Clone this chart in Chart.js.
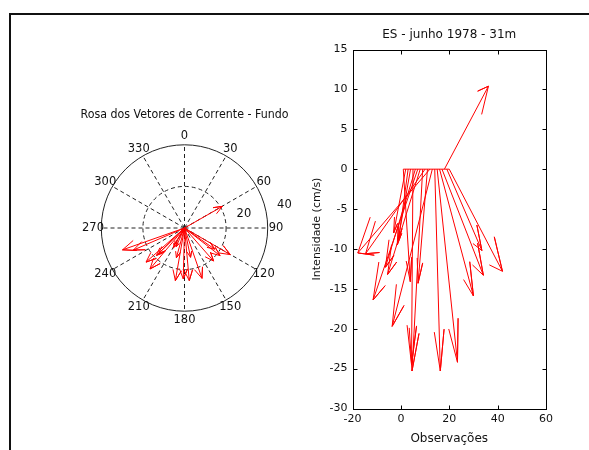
<!DOCTYPE html>
<html>
<head>
<meta charset="utf-8">
<script src="https://cdn.jsdelivr.net/npm/chart.js@4.4.1/dist/chart.umd.min.js"></script>
<style>
  html, body { margin: 0; padding: 0; background: #fff; width: 589px; height: 450px; overflow: hidden; }
  #moldura { position: absolute; left: 9px; top: 13px; width: 620px; height: 480px;
             border-left: 2px solid #111; border-top: 2px solid #111; }
  #rosa { position: absolute; left: 40px; top: 100px; }
  #pena { position: absolute; left: 290px; top: 20px; }
</style>
</head>
<body>
<div id="moldura"></div>
<canvas id="rosa" width="290" height="240"></canvas>
<canvas id="pena" width="320" height="430"></canvas>
<script>
// Corrente de fundo, ES, junho 1978, 31 m: componentes (cm/s) de cada observação
const observacoes = [1, 2, 3, 4, 5, 6, 7, 8, 9, 10, 11, 12, 13, 14, 15, 16, 17, 18, 19, 20];
const leste = [2.9, -5.0, -4.0, -5.5, -0.6, -12.4, -18.5, -13.5, -4.4, -24.6,
               -3.9, -29.8, -16.6, 2.3, 8.4, 14.0, 17.1, 18.2, 14.5, 22.0];
const norte = [-14.1, -8.0, -8.9, -9.5, -24.5, -12.3, -16.4, -13.2, -25.3, -10.6,
               -14.3, -10.5, -19.7, -25.3, -24.2, -15.9, -13.3, 10.4, -10.2, -12.8];

// Rosa: direções (graus) e anéis de intensidade
const angulos = [0, 30, 60, 90, 120, 150, 180, 210, 240, 270, 300, 330];
const aneis = [20, 40];

// Diagrama de penas: marcas dos eixos
const ticksX = [-20, 0, 20, 40, 60];
const ticksY = [-30, -25, -20, -15, -10, -5, 0, 5, 10, 15];

const VERMELHO = '#ff0000';
const FONTE = '"DejaVu Sans", Verdana, sans-serif';

// Seta no estilo MATLAB: haste, ponta e duas farpas a 80% do comprimento
function seta(x0, y0, u, v) {
  return [
    { x: x0, y: y0 },
    { x: x0 + u, y: y0 + v },
    { x: x0 + 0.8 * u - 0.08 * v, y: y0 + 0.8 * v + 0.08 * u },
    { x: x0 + u, y: y0 + v },
    { x: x0 + 0.8 * u + 0.08 * v, y: y0 + 0.8 * v - 0.08 * u }
  ];
}

function conjuntoSeta(pts) {
  return { data: pts, showLine: true, borderColor: VERMELHO, borderWidth: 1,
           pointRadius: 0, fill: false, tension: 0 };
}

// ---------- Rosa dos vetores ----------
const gradeRosa = {
  id: 'gradeRosa',
  beforeDatasetsDraw(chart) {
    const { ctx, scales: { x, y } } = chart;
    const cx = x.getPixelForValue(0), cy = y.getPixelForValue(0);
    const raio = r => x.getPixelForValue(r) - cx;
    const R = raio(aneis[aneis.length - 1]);
    ctx.save();
    ctx.strokeStyle = '#222';
    ctx.lineWidth = 1;
    ctx.setLineDash([4, 3]);
    angulos.forEach(a => {
      const t = a * Math.PI / 180;
      ctx.beginPath();
      ctx.moveTo(cx, cy);
      ctx.lineTo(cx + R * Math.sin(t), cy - R * Math.cos(t));
      ctx.stroke();
    });
    aneis.slice(0, -1).forEach(r => {
      ctx.beginPath();
      ctx.arc(cx, cy, raio(r), 0, 2 * Math.PI);
      ctx.stroke();
    });
    ctx.setLineDash([]);
    ctx.beginPath();
    ctx.arc(cx, cy, R, 0, 2 * Math.PI);
    ctx.stroke();
    ctx.restore();
  },
  afterDatasetsDraw(chart) {
    const { ctx, scales: { x, y } } = chart;
    const rMax = aneis[aneis.length - 1];
    ctx.save();
    ctx.fillStyle = '#111';
    ctx.font = '11.5px ' + FONTE;
    ctx.textAlign = 'center';
    ctx.textBaseline = 'middle';
    angulos.forEach(a => {
      const t = a * Math.PI / 180, r = rMax * 1.1;
      ctx.fillText(String(a), x.getPixelForValue(r * Math.sin(t)), y.getPixelForValue(r * Math.cos(t)));
    });
    const tR = 77 * Math.PI / 180;
    aneis.forEach(v => {
      const r = v + 9.3;
      ctx.fillText(String(v), x.getPixelForValue(r * Math.sin(tR)), y.getPixelForValue(r * Math.cos(tR)));
    });
    ctx.restore();
  }
};

new Chart(document.getElementById('rosa'), {
  type: 'scatter',
  data: { datasets: leste.map((u, i) => conjuntoSeta(seta(0, 0, u, norte[i]))) },
  options: {
    responsive: false, animation: false, events: [],
    layout: { padding: { left: 40.5, right: 41.5, top: 0, bottom: 8 } },
    plugins: {
      legend: { display: false }, tooltip: { enabled: false },
      title: { display: true, text: 'Rosa dos Vetores de Corrente - Fundo', color: '#111',
               font: { family: FONTE, size: 12, weight: 'normal' }, padding: { top: 7.8, bottom: 1.8 } }
    },
    scales: {
      x: { type: 'linear', min: -50, max: 50, display: false },
      y: { type: 'linear', min: -50, max: 50, display: false }
    }
  },
  plugins: [gradeRosa]
});

// ---------- Diagrama de penas ----------
const caixa = {
  id: 'caixa',
  afterDraw(chart) {
    const { ctx, chartArea: a, scales: { x, y } } = chart;
    const L = Math.round(a.left) + 0.5, R = Math.round(a.right) + 0.5;
    const T = Math.round(a.top) + 0.5, B = Math.round(a.bottom) + 0.5;
    ctx.save();
    ctx.strokeStyle = '#000';
    ctx.lineWidth = 1;
    ctx.strokeRect(L, T, R - L, B - T);
    ctx.beginPath();
    ticksX.forEach(v => {
      const p = Math.round(x.getPixelForValue(v)) + 0.5;
      ctx.moveTo(p, B); ctx.lineTo(p, B - 4);
      ctx.moveTo(p, T); ctx.lineTo(p, T + 4);
    });
    ticksY.forEach(v => {
      const p = Math.round(y.getPixelForValue(v)) + 0.5;
      ctx.moveTo(L, p); ctx.lineTo(L + 4, p);
      ctx.moveTo(R, p); ctx.lineTo(R - 4, p);
    });
    ctx.stroke();
    ctx.restore();
  }
};

const penas = observacoes.map((o, i) => conjuntoSeta(seta(o, 0, leste[i], norte[i])));
penas.push(conjuntoSeta([{ x: observacoes[0], y: 0 }, { x: observacoes[observacoes.length - 1], y: 0 }]));

const fonteTick = { family: FONTE, size: 11 };
new Chart(document.getElementById('pena'), {
  type: 'scatter',
  data: { datasets: penas },
  options: {
    responsive: false, animation: false, events: [],
    layout: { padding: { left: 0, right: 1.5, top: 0, bottom: 0 } },
    plugins: {
      legend: { display: false }, tooltip: { enabled: false },
      title: { display: true, text: 'ES - junho 1978 - 31m', color: '#111',
               font: { family: FONTE, size: 12, weight: 'normal' }, padding: { top: 7.3, bottom: 7.8 } }
    },
    scales: {
      x: {
        type: 'linear', min: ticksX[0], max: ticksX[ticksX.length - 1],
        afterBuildTicks: s => { s.ticks = ticksX.map(v => ({ value: v })); },
        afterFit: s => { s.height = 41.5; },
        grid: { display: false, drawTicks: false }, border: { display: false },
        ticks: { color: '#111', font: fonteTick, padding: 4, maxRotation: 0 },
        title: { display: true, text: 'Observações', color: '#111',
                 font: { family: FONTE, size: 12 }, padding: { top: 0, bottom: 4 } }
      },
      y: {
        type: 'linear', min: ticksY[0], max: ticksY[ticksY.length - 1],
        afterBuildTicks: s => { s.ticks = ticksY.map(v => ({ value: v })); },
        afterFit: s => { s.width = 62.5; },
        grid: { display: false, drawTicks: false }, border: { display: false },
        ticks: { color: '#111', font: fonteTick, padding: 5 },
        title: { display: true, text: 'Intensidade (cm/s)', color: '#111',
                 font: { family: FONTE, size: 11 }, padding: { top: 21, bottom: 0 } }
      },
      // eixo direito sem rótulos: reserva a mesma margem do lado esquerdo
      yDir: {
        type: 'linear', position: 'right', min: ticksY[0], max: ticksY[ticksY.length - 1],
        afterFit: s => { s.width = 62.5; },
        grid: { display: false, drawTicks: false }, border: { display: false },
        ticks: { display: false }
      }
    }
  },
  plugins: [caixa]
});
</script>
</body>
</html>
